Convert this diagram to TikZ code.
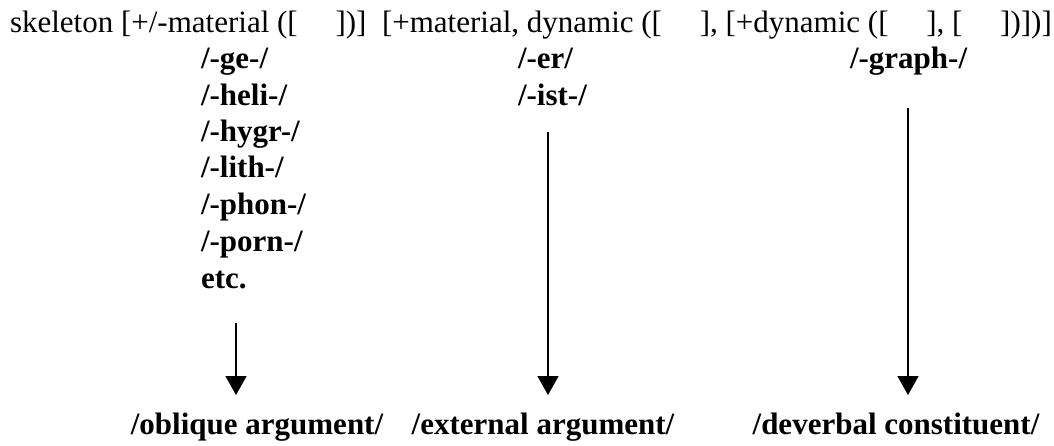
\documentclass[tikz,border=0pt]{standalone}
\usepackage{fontspec}
\setmainfont{Liberation Serif}
\usetikzlibrary{arrows.meta}
\tikzset{
  txt/.style={inner sep=0pt, outer sep=0pt, anchor=base west, font=\fontsize{31}{36.5}\selectfont},
  btxt/.style={txt, font=\fontsize{31}{36.5}\selectfont\bfseries},
  lbl/.style={inner sep=0pt, outer sep=0pt, anchor=base, font=\fontsize{31}{36.5}\selectfont\bfseries},
  conn/.style={line width=1.5pt, -{Triangle[width=21pt,length=19pt]}}
}
\newcommand{\gapb}{\hspace{37.75pt}}
\begin{document}
\begin{tikzpicture}[x=1pt,y=-1pt]
\useasboundingbox (0,0) rectangle (1054,445);
\node[txt] (top) at (10,32) {skeleton [+/-material ([\gapb])]\hspace{15.5pt}[+material, dynamic ([\gapb], [+dynamic ([\gapb], [\gapb])])]};
% column 1
\node[btxt] (ge) at (201,68) {/-ge-/};
\node[btxt] (heli) at (201,105) {/-heli-/};
\node[btxt] (hygr) at (201,141) {/-hygr-/};
\node[btxt] (lith) at (201,177) {/-lith-/};
\node[btxt] (phon) at (201,214) {/-phon-/};
\node[btxt] (porn) at (201,251) {/-porn-/};
\node[btxt] (etc) at (201,288) {etc.};
% column 2
\node[btxt] (er) at (518,68) {/-er/};
\node[btxt] (ist) at (518,105) {/-ist-/};
% column 3
\node[btxt] (graph) at (850,68) {/-graph-/};
% bottom labels
\node[lbl] (obl) at (257,434) {/oblique argument/};
\node[lbl] (ext) at (543,434) {/external argument/};
\node[lbl] (dev) at (896,434) {/deverbal constituent/};
% arrows
\coordinate (s1) at (236,323);
\coordinate (e1) at (236,395);
\coordinate (s2) at (548,132);
\coordinate (e2) at (548,395);
\coordinate (s3) at (908,108);
\coordinate (e3) at (908,395);
\draw[conn] (s1) -- (e1);
\draw[conn] (s2) -- (e2);
\draw[conn] (s3) -- (e3);
\end{tikzpicture}
\end{document}
